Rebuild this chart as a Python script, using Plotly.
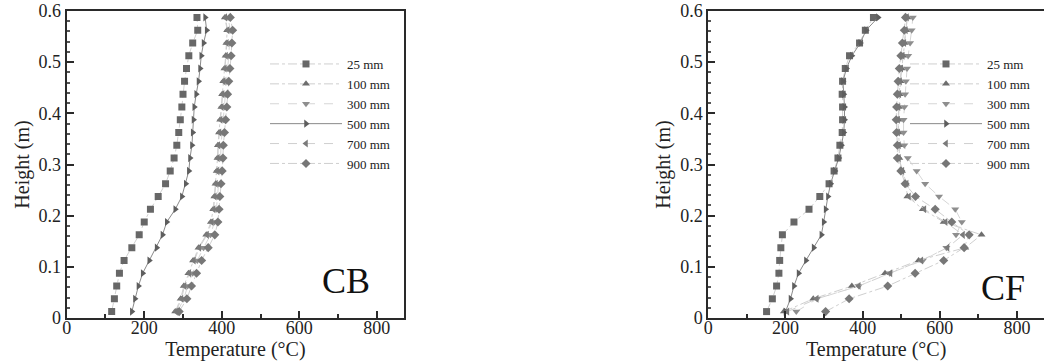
import plotly.graph_objects as go

heights = [0.0125 + 0.025 * i for i in range(24)]
series_names = ["25 mm", "100 mm", "300 mm", "500 mm", "700 mm", "900 mm"]

# CB panel temperatures (°C), bottom to top
cb_25 = [116, 123, 129, 136, 148, 168, 187, 200, 216, 236, 255, 267, 277, 284, 289, 293, 297, 300, 304, 309, 315, 325, 338, 336]
cb_100 = [280, 294, 302, 314, 326, 340, 360, 372, 378, 381, 384, 387, 389, 390, 393, 396, 399, 401, 404, 407, 410, 412, 414, 408]
cb_300 = [286, 302, 312, 325, 337, 353, 371, 381, 386, 389, 392, 395, 397, 398, 401, 404, 407, 409, 412, 415, 418, 420, 422, 416]
cb_500 = [168, 176, 185, 196, 213, 232, 247, 258, 280, 297, 307, 315, 318, 323, 325, 327, 329, 334, 340, 344, 347, 353, 361, 357]
cb_700 = [282, 296, 304, 316, 328, 342, 362, 374, 379, 382, 385, 388, 390, 391, 394, 397, 400, 402, 405, 408, 411, 413, 415, 409]
cb_900 = [290, 310, 322, 335, 348, 365, 382, 390, 393, 395, 398, 401, 403, 404, 407, 410, 413, 415, 418, 421, 424, 426, 428, 422]

# CF panel temperatures (°C), bottom to top
cf_25 = [151, 166, 177, 183, 185, 188, 192, 222, 261, 289, 313, 326, 336, 341, 347, 348, 348, 347, 348, 355, 366, 392, 407, 428]
cf_100 = [196, 272, 372, 458, 545, 666, 708, 610, 556, 516, 512, 502, 495, 495, 493, 493, 494, 496, 498, 501, 505, 509, 513, 516]
cf_300 = [228, 282, 390, 470, 556, 617, 642, 657, 640, 598, 562, 540, 517, 508, 506, 506, 508, 510, 512, 515, 518, 523, 527, 530]
cf_500 = [200, 213, 222, 234, 253, 273, 293, 299, 304, 310, 317, 328, 338, 345, 351, 353, 353, 351, 349, 358, 372, 394, 409, 440]
cf_700 = [205, 281, 390, 472, 552, 620, 660, 615, 560, 520, 514, 503, 494, 494, 492, 492, 493, 495, 497, 500, 504, 508, 512, 515]
cf_900 = [304, 365, 465, 536, 610, 663, 676, 631, 588, 537, 510, 499, 490, 490, 488, 487, 488, 490, 492, 495, 499, 503, 508, 511]

x_ticks = [0, 200, 400, 600, 800]
y_ticks = [0, 0.1, 0.2, 0.3, 0.4, 0.5, 0.6]
y_tick_text = ["0", "0.1", "0.2", "0.3", "0.4", "0.5", "0.6"]

symbols = ["square", "triangle-up", "triangle-down", "triangle-right", "triangle-left", "diamond"]
mcolors = ["#676767", "#6e6e6e", "#8e8e8e", "#5e5e5e", "#7a7a7a", "#777777"]
lcolors = ["#cfcfcf", "#cfcfcf", "#d6d6d6", "#8a8a8a", "#cfcfcf", "#cfcfcf"]
dashes = ["dashdot", "dashdot", "dash", "solid", "dash", "dashdot"]

W, H = 1044, 363
fig = go.Figure()

cb = [cb_25, cb_100, cb_300, cb_500, cb_700, cb_900]
cf = [cf_25, cf_100, cf_300, cf_500, cf_700, cf_900]

for data, xa, ya, lg in [(cb, "x", "y", "legend"), (cf, "x2", "y2", "legend2")]:
    for k in range(6):
        fig.add_trace(go.Scatter(
            x=data[k], y=heights, xaxis=xa, yaxis=ya, legend=lg,
            name=series_names[k], mode="lines+markers",
            line=dict(color=lcolors[k], width=1, dash=dashes[k]),
            marker=dict(symbol=symbols[k], size=7, color=mcolors[k]),
        ))

font_family = "Liberation Serif"
axis_common = dict(
    showline=True, linecolor="#2a2a2a", linewidth=2,
    ticks="inside", ticklen=7, tickwidth=1.5, tickcolor="#2a2a2a",
    showgrid=False, zeroline=False, automargin=False,
    tickfont=dict(family=font_family, size=18, color="#222"),
    title_font=dict(family=font_family, size=20, color="#222"),
)

def px(v):
    return v / W

def py(v):
    return (318 - v) / 307.0

fig.update_layout(
    width=W, height=H,
    margin=dict(l=0, r=0, t=11, b=45, autoexpand=False),
    paper_bgcolor="white", plot_bgcolor="white",
    font=dict(family=font_family, color="#222"),
    xaxis=dict(domain=[px(66.7), px(404)], range=[0, 870], tickvals=x_ticks, mirror=True,
               ticklabelstandoff=-8,
               minor=dict(dtick=100, ticklen=4, tickcolor="#2a2a2a", ticks="inside"),
               title=dict(text="Temperature (°C)", standoff=0), anchor="y", **axis_common),
    yaxis=dict(domain=[0, 1], range=[0, 0.6], tickvals=y_ticks, ticktext=y_tick_text, mirror=True,
               minor=dict(dtick=0.02, ticklen=3, tickcolor="#555", ticks="inside"),
               title=dict(text="Height (m)", standoff=4), anchor="x", **axis_common),
    xaxis2=dict(domain=[px(708.3), 1.0], range=[0, 870], tickvals=x_ticks, mirror=True,
                ticklabelstandoff=-8,
                minor=dict(dtick=100, ticklen=4, tickcolor="#2a2a2a", ticks="inside"),
                title=dict(text="Temperature (°C)", standoff=0), anchor="y2", **axis_common),
    yaxis2=dict(domain=[0, 1], range=[0, 0.6], tickvals=y_ticks, ticktext=y_tick_text, mirror=False,
                minor=dict(dtick=0.02, ticklen=3, tickcolor="#555", ticks="inside"),
                title=dict(text="Height (m)", standoff=4), anchor="x2", **axis_common),
    legend=dict(x=px(265), xanchor="left", y=py(49), yanchor="top", itemwidth=72,
                bgcolor="rgba(0,0,0,0)", tracegroupgap=0,
                font=dict(family=font_family, size=13, color="#222")),
    legend2=dict(x=px(905), xanchor="left", y=py(49), yanchor="top", itemwidth=72,
                 bgcolor="rgba(0,0,0,0)", tracegroupgap=0,
                 font=dict(family=font_family, size=13, color="#222")),
    showlegend=True,
    annotations=[
        dict(text="CB", x=px(346), y=py(281), xref="paper", yref="paper",
             xanchor="center", yanchor="middle",
             showarrow=False, font=dict(family=font_family, size=36, color="#111")),
        dict(text="CF", x=px(1003), y=py(288), xref="paper", yref="paper",
             xanchor="center", yanchor="middle",
             showarrow=False, font=dict(family=font_family, size=36, color="#111")),
    ],
)

fig.write_html("out.html", config={"displayModeBar": False},
               post_script="document.body.style.margin='0px';")
